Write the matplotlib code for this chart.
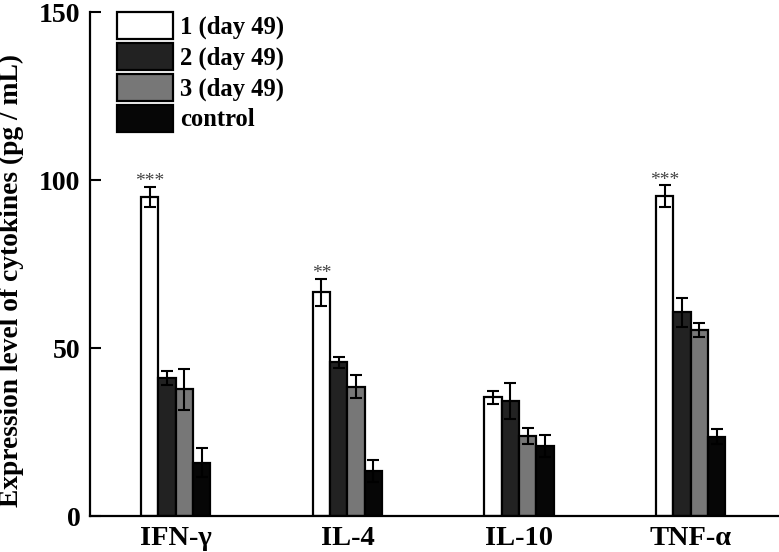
import matplotlib
matplotlib.use("Agg")
import matplotlib.pyplot as plt
import numpy as np

plt.rcParams['font.family'] = ['Liberation Serif', 'DejaVu Serif']
plt.rcParams['font.weight'] = 'bold'

categories = ['IFN-γ', 'IL-4', 'IL-10', 'TNF-α']
series_names = ['1 (day 49)', '2 (day 49)', '3 (day 49)', 'control']
values = [
    [94.9, 66.6, 35.3, 95.2],   # 1 (day 49)
    [41.0, 45.7, 34.3, 60.6],   # 2 (day 49)
    [37.8, 38.5, 23.8, 55.4],   # 3 (day 49)
    [15.9, 13.4, 20.9, 23.6],   # control
]
errors = [
    [3.0, 4.0, 2.0, 3.2],
    [2.1, 1.7, 5.4, 4.3],
    [6.1, 3.4, 2.5, 2.0],
    [4.2, 3.3, 3.3, 2.2],
]
significance = ['***', '**', '', '***']
colors = ['#ffffff', '#222222', '#777777', '#060606']

fig = plt.figure(figsize=(7.79, 5.52), dpi=100)
ax = fig.add_axes([0.1155, 0.0652, 0.8845, 0.9130])

x = np.arange(len(categories))
width = 0.101
offsets = [-1.5, -0.5, 0.5, 1.5]
for i in range(4):
    ax.bar(x + offsets[i] * width, values[i], width, color=colors[i],
           edgecolor='black', linewidth=1.6, label=series_names[i], zorder=2)
    ax.errorbar(x + offsets[i] * width, values[i], yerr=errors[i], fmt='none',
                ecolor='black', elinewidth=1.5, capsize=4.3, capthick=1.5, zorder=3)

for j, s in enumerate(significance):
    if s:
        ax.text(x[j] + offsets[0] * width, values[0][j] + errors[0][j] + 1.6, s,
                ha='center', va='center', fontsize=14, fontweight='normal',
                color='#444444')

ax.set_xlim(-0.5, 3.515)
ax.set_ylim(0, 150)
ax.set_yticks([0, 50, 100, 150])
ax.set_xticks(x)
ax.set_xticklabels(categories, fontsize=20.5, fontweight='bold')
ax.tick_params(axis='x', length=0, pad=7)
ax.tick_params(axis='y', direction='in', length=8, width=1.5, labelsize=20, pad=7)
for lab in ax.get_yticklabels():
    lab.set_fontweight('bold')

ax.spines['top'].set_visible(False)
ax.spines['right'].set_visible(False)
ax.spines['left'].set_linewidth(1.6)
ax.spines['bottom'].set_linewidth(1.6)

ax.set_ylabel('Expression level of cytokines (pg / mL)', fontsize=19.8,
              fontweight='bold')
ax.yaxis.set_label_coords(-0.096, 0.468)

leg = ax.legend(loc='upper left', bbox_to_anchor=(0.039, 1.0), frameon=False,
                fontsize=17.7, handlelength=2.28, handleheight=1.32,
                labelspacing=0.15, handletextpad=0.3, borderpad=0,
                borderaxespad=0)
for t in leg.get_texts():
    t.set_fontweight('bold')

fig.savefig('out.png', dpi=100)
